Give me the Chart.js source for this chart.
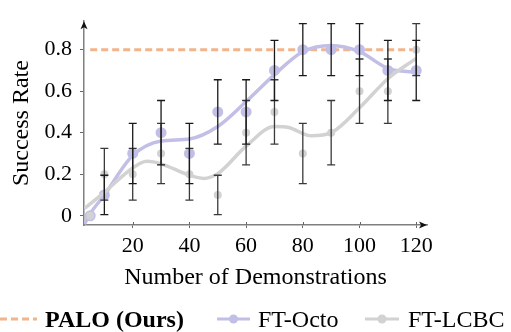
<!DOCTYPE html>
<html>
<head>
<meta charset="utf-8">
<script src="https://cdn.jsdelivr.net/npm/chart.js@4.4.1/dist/chart.umd.min.js"></script>
<style>
  html, body { margin: 0; padding: 0; background: #fff; }
  #c { display: block; }
</style>
</head>
<body>
<canvas id="c" width="511" height="332"></canvas>
<script>
// ---- data ----
const xValues   = [5, 10, 20, 30, 40, 50, 60, 70, 80, 90, 100, 110, 120];
const octoRate  = [0, 0.1, 0.3, 0.4, 0.3, 0.5, 0.5, 0.7, 0.8, 0.8, 0.8, 0.7, 0.7];
const lcbcRate  = [0, 0.2, 0.2, 0.3, 0.2, 0.1, 0.4, 0.5, 0.3, 0.4, 0.6, 0.6, 0.8];
const octoLow   = [null, 0.005, 0.155, 0.245, 0.155, 0.345, 0.345, 0.555, 0.675, 0.675, 0.675, 0.555, 0.555];
const octoHigh  = [null, 0.195, 0.445, 0.555, 0.445, 0.655, 0.655, 0.845, 0.925, 0.925, 0.925, 0.845, 0.845];
const lcbcLow   = [null, 0.075, 0.075, 0.155, 0.075, 0.005, 0.245, 0.345, 0.155, 0.245, 0.445, 0.445, 0.675];
const lcbcHigh  = [null, 0.325, 0.325, 0.445, 0.325, 0.195, 0.555, 0.655, 0.445, 0.555, 0.755, 0.755, 0.925];
// smoothed trend curves as seen in the picture
const octoTrendX = [3, 5, 10, 20, 30, 40, 50, 60, 70, 80, 90, 100, 110, 120];
const octoTrendY = [-0.04, 0.01, 0.1, 0.29, 0.36, 0.37, 0.43, 0.55, 0.68, 0.79, 0.82, 0.79, 0.71, 0.69];
const lcbcTrendX = [3, 10, 20, 25, 30, 40, 45, 50, 60, 70, 75, 83, 90, 100, 110, 120];
const lcbcTrendY = [0.035, 0.113, 0.23, 0.262, 0.25, 0.195, 0.18, 0.203, 0.335, 0.43, 0.425, 0.385, 0.40, 0.52, 0.66, 0.758];
const paloX = [5, 120];
const paloY = [0.8, 0.8];
const xTicks = [20, 40, 60, 80, 100, 120];
const yTicks = [0, 0.2, 0.4, 0.6, 0.8];
const yTickLabels = ['0', '0.2', '0.4', '0.6', '0.8'];
const seriesNames = ['PALO (Ours)', 'FT-Octo', 'FT-LCBC'];

const FONT = "'Liberation Serif', 'Times New Roman', serif";
const C_PALO = '#f2b48a';
const C_OCTO = '#c2bfe6';
const C_LCBC = '#d2d2d2';

const pts = (xs, ys) => xs.map((x, i) => ({ x: x, y: ys[i] }));

const errorBars = {
  id: 'errorBars',
  afterDatasetsDraw(chart) {
    const { ctx, scales: { x, y } } = chart;
    const sets = [[lcbcLow, lcbcHigh, '#3a3a3a'], [octoLow, octoHigh, '#1a1a1a']];
    ctx.save();
    ctx.lineWidth = 1.3;
    sets.forEach(([lo, hi, col]) => {
      ctx.strokeStyle = col;
      xValues.forEach((xv, i) => {
        if (lo[i] == null) return;
        const px = x.getPixelForValue(xv);
        const p1 = y.getPixelForValue(lo[i]);
        const p2 = y.getPixelForValue(hi[i]);
        ctx.beginPath();
        ctx.moveTo(px, p1); ctx.lineTo(px, p2);
        ctx.moveTo(px - 4, p1); ctx.lineTo(px + 4, p1);
        ctx.moveTo(px - 4, p2); ctx.lineTo(px + 4, p2);
        ctx.stroke();
      });
    });
    ctx.restore();
  }
};

const axisDecor = {
  id: 'axisDecor',
  afterDraw(chart) {
    const { ctx, chartArea: a, scales: { x } } = chart;
    ctx.save();
    // inner halves of x ticks
    ctx.strokeStyle = '#666';
    ctx.lineWidth = 1;
    xTicks.forEach(v => {
      const px = Math.round(x.getPixelForValue(v)) + 0.5;
      ctx.beginPath(); ctx.moveTo(px, a.bottom); ctx.lineTo(px, a.bottom - 3); ctx.stroke();
    });
    // arrow heads
    ctx.fillStyle = '#111';
    ctx.beginPath();
    ctx.moveTo(a.left, a.top);
    ctx.lineTo(a.left - 3.5, a.top + 8);
    ctx.lineTo(a.left, a.top + 6);
    ctx.lineTo(a.left + 3.5, a.top + 8);
    ctx.closePath(); ctx.fill();
    ctx.beginPath();
    ctx.moveTo(a.right, a.bottom);
    ctx.lineTo(a.right - 8, a.bottom - 3.5);
    ctx.lineTo(a.right - 6, a.bottom);
    ctx.lineTo(a.right - 8, a.bottom + 3.5);
    ctx.closePath(); ctx.fill();

    // legend
    const ly = 319;
    ctx.lineWidth = 3;
    ctx.strokeStyle = C_PALO;
    ctx.setLineDash([7, 4]);
    ctx.beginPath(); ctx.moveTo(0, ly); ctx.lineTo(37, ly); ctx.stroke();
    ctx.setLineDash([]);
    ctx.strokeStyle = C_OCTO;
    ctx.beginPath(); ctx.moveTo(217, ly); ctx.lineTo(250, ly); ctx.stroke();
    ctx.fillStyle = C_OCTO;
    ctx.beginPath(); ctx.arc(233.5, ly, 4.5, 0, Math.PI * 2); ctx.fill();
    ctx.strokeStyle = C_LCBC;
    ctx.beginPath(); ctx.moveTo(365, ly); ctx.lineTo(399, ly); ctx.stroke();
    ctx.fillStyle = C_LCBC;
    ctx.beginPath(); ctx.arc(382, ly, 4.5, 0, Math.PI * 2); ctx.fill();

    ctx.fillStyle = '#000';
    ctx.textBaseline = 'alphabetic';
    ctx.textAlign = 'left';
    ctx.font = "bold 24px " + FONT;
    ctx.fillText(seriesNames[0], 45, 327);
    ctx.font = "24px " + FONT;
    ctx.fillText(seriesNames[1], 258, 327);
    ctx.fillText(seriesNames[2], 408, 327);
    ctx.restore();
  }
};

new Chart(document.getElementById('c'), {
  type: 'line',
  data: {
    datasets: [
      { label: seriesNames[0], data: pts(paloX, paloY), borderColor: C_PALO, borderWidth: 3,
        borderDash: [7, 4], pointRadius: 0, fill: false, order: 5 },
      { label: 'octo-trend', data: pts(octoTrendX, octoTrendY), borderColor: C_OCTO, borderWidth: 3.5,
        cubicInterpolationMode: 'monotone', pointRadius: 0, fill: false, order: 4 },
      { label: seriesNames[1], data: pts(xValues, octoRate), showLine: false, pointRadius: 5.5,
        pointBackgroundColor: C_OCTO, pointBorderWidth: 0, borderColor: C_OCTO, order: 3 },
      { label: 'lcbc-trend', data: pts(lcbcTrendX, lcbcTrendY), borderColor: C_LCBC, borderWidth: 3.5,
        cubicInterpolationMode: 'monotone', pointRadius: 0, fill: false, order: 2 },
      { label: seriesNames[2], data: pts(xValues, lcbcRate), showLine: false, pointRadius: 4,
        pointBackgroundColor: C_LCBC, pointBorderWidth: 0, borderColor: C_LCBC, order: 1 }
    ]
  },
  options: {
    responsive: false,
    animation: false,
    layout: { padding: { left: 0, right: 84, top: 11, bottom: 0 } },
    plugins: { legend: { display: false }, tooltip: { enabled: false } },
    scales: {
      x: {
        type: 'linear', min: 2.82, max: 123.8,
        afterBuildTicks: s => { s.ticks = xTicks.map(v => ({ value: v })); },
        afterFit: s => { s.height = 107; },
        ticks: { font: { family: FONT, size: 22 }, color: '#000', padding: 5, maxRotation: 0, autoSkip: false,
                 callback: v => String(v) },
        grid: { drawOnChartArea: false, drawTicks: true, tickLength: 3, color: '#666' },
        border: { color: '#808080', width: 1.5 },
        title: { display: true, text: 'Number of Demonstrations', color: '#000',
                 font: { family: FONT, size: 24 }, padding: { top: 0, bottom: 40 } }
      },
      y: {
        type: 'linear', min: -0.0445, max: 0.937,
        afterBuildTicks: s => { s.ticks = yTicks.map(v => ({ value: v })); },
        afterFit: s => { s.width = 84; },
        ticks: { font: { family: FONT, size: 22 }, color: '#000', padding: 8, autoSkip: false,
                 callback: v => { const i = yTicks.indexOf(v); return i >= 0 ? yTickLabels[i] : ''; } },
        grid: { drawOnChartArea: false, drawTicks: true, tickLength: 4, color: '#666' },
        border: { color: '#808080', width: 1.5 },
        title: { display: true, text: 'Success Rate', color: '#000',
                 font: { family: FONT, size: 24 }, padding: { top: 7, bottom: 0 } }
      }
    }
  },
  plugins: [errorBars, axisDecor]
});
</script>
</body>
</html>
